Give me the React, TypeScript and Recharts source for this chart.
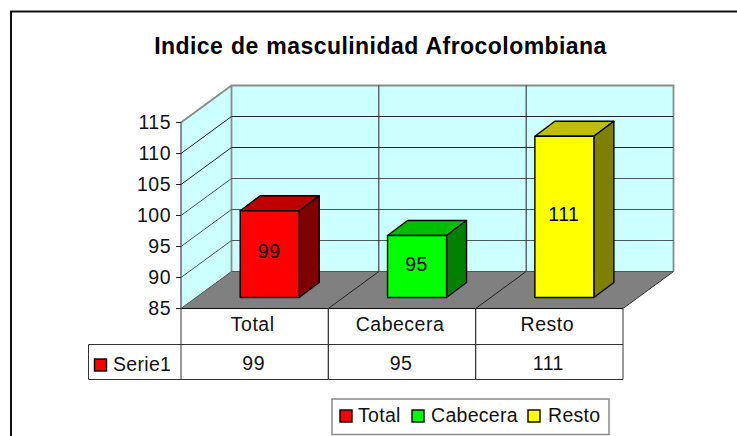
import React from 'react';
import { BarChart, Bar, Cell, XAxis, YAxis, CartesianGrid, Customized, LabelList, Legend } from 'recharts';

const TITLE = 'Indice de masculinidad Afrocolombiana';
const SERIES_NAME = 'Serie1';
const categories = ['Total', 'Cabecera', 'Resto'];
const values = [99, 95, 111];
const topColors = ['#BF0000', '#00BF00', '#BFBF00'];
const frontColors = ['#FF0000', '#00FF00', '#FFFF00'];
const sideColors = ['#7F0000', '#007F00', '#7F7F00'];
const yTicks = [85, 90, 95, 100, 105, 110, 115];

const FONT = '"Liberation Sans", Arial, sans-serif';
const FS = 19.5;
const LS = 0.5;
const W = 737, H = 436;
const L = 181, R = 623, T = 122.5, B = 308.5;
const DX = 50.5, DY = -37; // full depth of the floor
const BX = 15, BY = -11; // bar plane inside the depth
const SX = 20, SY = -15; // bar thickness
const ROW1 = 344.5, ROW2 = 379.5, HEAD = 88.5;

const data = categories.map((name, i) => ({ name, value: values[i] }));

function Walls() {
  return (
    <g>
      <path d={`M${L} ${B}L${L} ${T}L${L + DX} ${T + DY}L${L + DX} ${B + DY}Z`} fill="#CCFFFF" />
      <rect x={L + DX} y={T + DY} width={R - L} height={B - T} fill="#CCFFFF" />
      <path d={`M${L} ${B}L${L + DX} ${B + DY}L${R + DX} ${B + DY}L${R} ${B}Z`} fill="#808080" />
    </g>
  );
}

function Edges() {
  return (
    <g fill="none">
      <path d={`M${L} ${T}L${L + DX} ${T + DY}L${R + DX} ${T + DY}L${R + DX} ${B + DY}`} stroke="#8a8a8a" strokeWidth={1.8} />
      <path d={`M${L + DX} ${T + DY}L${L + DX} ${B + DY}`} stroke="#8a8a8a" strokeWidth={1.8} />
      <path d={`M${R} ${B}L${R + DX} ${B + DY}`} stroke="#333" strokeWidth={1} />
      <path d={`M${L} ${B}L${L} ${T}`} stroke="#222" strokeWidth={1} />
      <path d={`M${L} ${B}L${R} ${B}`} stroke="#111" strokeWidth={1.2} />
    </g>
  );
}

function HLine(p: any) {
  const { x1, y1, x2 } = p;
  if (y1 <= T + 0.5) return <g key="top" />;
  return <path key={p.key ?? y1} d={`M${x1} ${y1}L${x1 + DX} ${y1 + DY}L${x2 + DX} ${y1 + DY}`} fill="none" stroke={y1 > T + 90 ? '#4a5a5a' : '#222'} strokeWidth={1} />;
}

function VLine(p: any) {
  const { x1, y1, y2 } = p;
  if (x1 <= L + 0.5) return <g key="left" />;
  const top = Math.min(y1, y2), bot = Math.max(y1, y2);
  return <path key={p.key ?? x1} d={`M${x1} ${bot}L${x1 + DX} ${bot + DY}L${x1 + DX} ${top + DY}`} fill="none" stroke="#222" strokeWidth={1} />;
}

function Box(props: any) {
  const { x, y, width, height, index } = props;
  const fx = x + BX, fy = y + BY;
  return (
    <g stroke="#000" strokeWidth={1.4} strokeLinejoin="round">
      <path d={`M${fx} ${fy}l${SX} ${SY}l${width} 0l${-SX} ${-SY}Z`} fill={topColors[index]} />
      <path d={`M${fx + width} ${fy}l${SX} ${SY}l0 ${height}l${-SX} ${-SY}Z`} fill={sideColors[index]} />
      <rect x={fx} y={fy} width={width} height={height} fill={frontColors[index]} />
    </g>
  );
}

function BarValue(props: any) {
  const { x, y, width, height, value } = props;
  return (
    <text x={x + BX + width / 2 - 0.5} y={y + BY + height / 2 - 3} textAnchor="middle" dominantBaseline="central" fontFamily={FONT} fontSize={FS} letterSpacing={LS} fill="#000">{value}</text>
  );
}

function TableTick(props: any) {
  const { x, payload, index } = props;
  const band = (R - L) / categories.length;
  const left = x - band / 2;
  return (
    <g>
      <path d={`M${left} ${B}V${ROW2}M${left + band} ${B}V${ROW2}M${left} ${ROW1}H${left + band}M${left} ${ROW2}H${left + band}`} stroke="#333" strokeWidth={1} fill="none" />
      <text x={x - 2} y={324} textAnchor="middle" dominantBaseline="central" fontFamily={FONT} fontSize={FS} letterSpacing={LS} fill="#111">{payload.value}</text>
      <text x={x - 1} y={362.5} textAnchor="middle" dominantBaseline="central" fontFamily={FONT} fontSize={FS} letterSpacing={LS} fill="#111">{values[index]}</text>
    </g>
  );
}

function TableHead() {
  return (
    <g>
      <path d={`M${L} ${ROW1}H${HEAD}V${ROW2}H${L}`} stroke="#333" strokeWidth={1} fill="none" />
      <rect x={94.5} y={359} width={12} height={12} fill={frontColors[0]} stroke="#000" strokeWidth={1.4} />
      <text x={113} y={364} dominantBaseline="central" fontFamily={FONT} fontSize={FS} letterSpacing={0.3} fill="#111">{SERIES_NAME}</text>
    </g>
  );
}

function Frame() {
  return (
    <g>
      <path d={`M11 ${H}V11.5H${W}`} fill="none" stroke="#111" strokeWidth={2} />
      <text x={380.5} y={45.5} textAnchor="middle" dominantBaseline="central" fontFamily={FONT} fontWeight={700} fontSize={23} letterSpacing={0.45} wordSpacing={0.8} fill="#000">{TITLE}</text>
    </g>
  );
}

const legendSwatchX = [9, 81, 197];
const legendTextX = [27, 100, 217];

function LegendBox() {
  return (
    <svg width={280} height={38} style={{ display: 'block' }}>
      <rect x={1} y={1} width={277} height={35.5} fill="#fff" stroke="#8a8a8a" strokeWidth={1.5} />
      {categories.map((c, i) => (
        <g key={c}>
          <rect x={legendSwatchX[i]} y={12} width={12} height={12} fill={frontColors[i]} stroke="#000" strokeWidth={1.4} />
          <text x={legendTextX[i]} y={16.5} dominantBaseline="central" fontFamily={FONT} fontSize={FS} letterSpacing={0.3} fill="#111">{c}</text>
        </g>
      ))}
    </svg>
  );
}

export default function App() {
  return (
    <div style={{ position: 'absolute', left: 0, top: 0, width: W, height: H, background: '#fff' }}>
      <BarChart width={W} height={H} data={data} barCategoryGap="30%"
        margin={{ top: T, right: W - R, bottom: H - B - 40, left: L - 60 }}>
        <Customized component={<Frame />} />
        <Customized component={<Walls />} />
        <Customized component={<Edges />} />
        <CartesianGrid zIndex={1} horizontal={HLine as any} vertical={VLine as any}
          verticalCoordinatesGenerator={({ offset }: any) => categories.map((_, i) => offset.left + (i * offset.width) / categories.length)} />
        <XAxis dataKey="name" height={40} axisLine={false} tickLine={false} interval={0} tick={TableTick as any} />
        <YAxis width={60} domain={[85, 115]} ticks={yTicks} interval={0} tickSize={5} tickMargin={5}
          axisLine={false} tickLine={{ stroke: '#222' }} tick={{ fontFamily: FONT, fontSize: FS, letterSpacing: LS, fill: '#111' }} />
        <Customized component={<TableHead />} />
        <Bar dataKey="value" isAnimationActive={false} shape={Box as any}>
          {data.map((d, i) => <Cell key={d.name} fill={frontColors[i]} />)}
          <LabelList dataKey="value" content={BarValue as any} />
        </Bar>
        <Legend layout="horizontal" verticalAlign="middle" align="center" content={LegendBox as any}
          wrapperStyle={{ position: 'absolute', left: 331, top: 398, width: 280, height: 38 }} />
      </BarChart>
    </div>
  );
}
